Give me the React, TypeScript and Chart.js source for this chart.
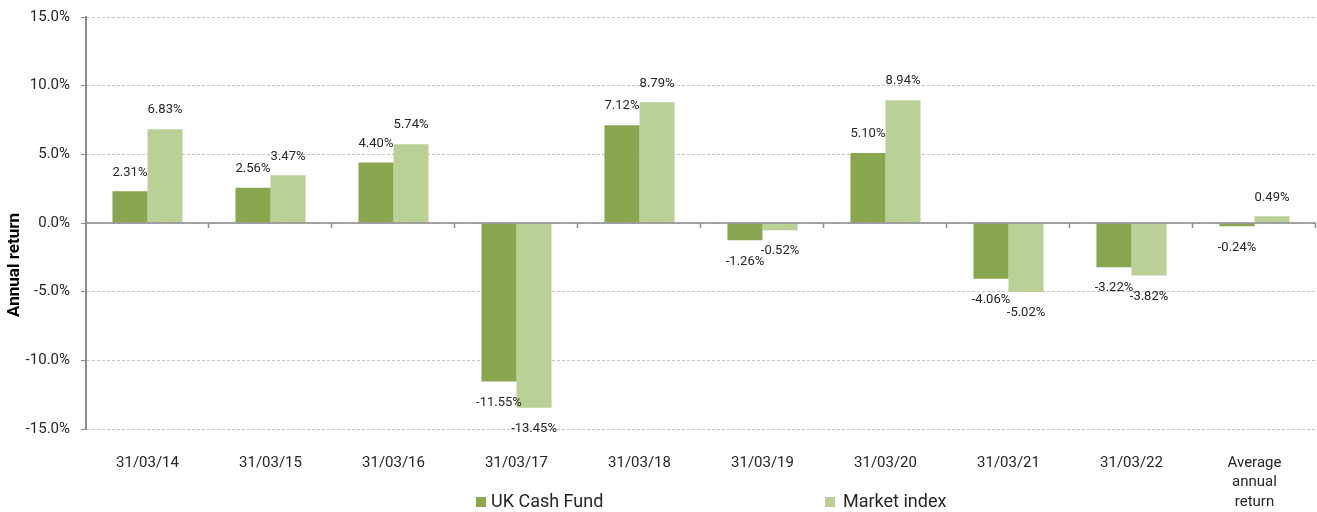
import React, { useEffect, useRef } from "react";
import { Chart, registerables } from "chart.js";

Chart.register(...registerables);

const categories: (string | string[])[] = [
  "31/03/14",
  "31/03/15",
  "31/03/16",
  "31/03/17",
  "31/03/18",
  "31/03/19",
  "31/03/20",
  "31/03/21",
  "31/03/22",
  ["Average", "annual", "return"],
];
const ukCashFund = [2.31, 2.56, 4.4, -11.55, 7.12, -1.26, 5.1, -4.06, -3.22, -0.24];
const marketIndex = [6.83, 3.47, 5.74, -13.45, 8.79, -0.52, 8.94, -5.02, -3.82, 0.49];
const seriesNames = ["UK Cash Fund", "Market index"];
const seriesColors = ["#8aa64e", "#bbd097"];
const yTitle = "Annual return";
const yMin = -15;
const yMax = 15;
const yStep = 5;

const FONT = "Roboto, 'Noto Sans', sans-serif";
const TEXT = "#262626";
const AXIS = "#8c8c8c";

const dataLabelPlugin = {
  id: "dataLabels",
  afterDatasetsDraw(chart: any) {
    const ctx = chart.ctx;
    ctx.save();
    ctx.font = `13px ${FONT}`;
    ctx.fillStyle = TEXT;
    ctx.textAlign = "center";
    ctx.textBaseline = "middle";
    chart.data.datasets.forEach((ds: any, di: number) => {
      const meta = chart.getDatasetMeta(di);
      meta.data.forEach((bar: any, i: number) => {
        const v = ds.data[i];
        const y = v >= 0 ? bar.y - 19 : bar.y + 21;
        ctx.fillText(v.toFixed(2) + "%", bar.x, y);
      });
    });
    ctx.restore();
  },
};

const zeroLinePlugin = {
  id: "zeroLine",
  afterDatasetsDraw(chart: any) {
    const ctx = chart.ctx;
    const { left, right } = chart.chartArea;
    const y0 = chart.scales.y.getPixelForValue(0);
    const n = chart.data.labels.length;
    const w = (right - left) / n;
    ctx.save();
    ctx.strokeStyle = AXIS;
    ctx.lineWidth = 1.5;
    ctx.beginPath();
    ctx.moveTo(left, y0);
    ctx.lineTo(right, y0);
    for (let i = 1; i <= n; i++) {
      const x = Math.round(left + i * w) - 0.5;
      ctx.moveTo(x, y0);
      ctx.lineTo(x, y0 + 5);
    }
    ctx.stroke();
    ctx.restore();
  },
};

const titleAndLegendPlugin = {
  id: "titleAndLegend",
  afterDraw(chart: any) {
    const ctx = chart.ctx;
    ctx.save();
    // y-axis title
    ctx.save();
    ctx.translate(15, 265);
    ctx.rotate(-Math.PI / 2);
    ctx.font = `bold 17px ${FONT}`;
    ctx.fillStyle = "#000";
    ctx.textAlign = "center";
    ctx.textBaseline = "middle";
    ctx.fillText(yTitle, 0, 0);
    ctx.restore();
    // legend
    const xs = [476, 825];
    const gaps = [15, 18];
    const y = 502;
    ctx.font = `18px ${FONT}`;
    ctx.textAlign = "left";
    ctx.textBaseline = "middle";
    chart.data.datasets.forEach((ds: any, i: number) => {
      ctx.fillStyle = ds.backgroundColor;
      ctx.fillRect(xs[i], y - 5, 10, 10);
      ctx.fillStyle = TEXT;
      ctx.fillText(ds.label, xs[i] + gaps[i], y);
    });
    ctx.restore();
  },
};

export default function App() {
  const ref = useRef<HTMLCanvasElement | null>(null);
  useEffect(() => {
    if (!ref.current) return;
    const chart = new Chart(ref.current, {
      type: "bar",
      data: {
        labels: categories,
        datasets: [
          { label: seriesNames[0], data: ukCashFund, backgroundColor: seriesColors[0] },
          { label: seriesNames[1], data: marketIndex, backgroundColor: seriesColors[1] },
        ],
      },
      options: {
        animation: false,
        responsive: true,
        maintainAspectRatio: false,
        datasets: { bar: { barPercentage: 1, categoryPercentage: 0.57 } },
        layout: { padding: { top: 17, right: 1, left: 0, bottom: 0 } },
        plugins: { legend: { display: false }, tooltip: { enabled: false } },
        scales: {
          x: {
            grid: { display: false, drawTicks: false },
            border: { display: false },
            ticks: {
              font: { family: FONT, size: 15, lineHeight: 1.3 },
              color: TEXT,
              padding: 24,
              maxRotation: 0,
              autoSkip: false,
            },
            afterFit(scale: any) {
              scale.height = 83;
              scale.paddingLeft = 0;
              scale.paddingRight = 0;
            },
          },
          y: {
            min: yMin,
            max: yMax,
            ticks: {
              stepSize: yStep,
              font: { family: FONT, size: 15 },
              color: TEXT,
              padding: 11,
              callback: (v: any) => Number(v).toFixed(1) + "%",
            },
            grid: { color: "#c4c4c4", tickColor: AXIS, tickLength: 5, lineWidth: 1 },
            border: { display: true, color: AXIS, width: 2, dash: [3, 2] },
            title: { display: false },
            afterFit(scale: any) {
              scale.width = 86;
              scale.paddingTop = 0;
              scale.paddingBottom = 0;
            },
          },
        },
      },
      plugins: [zeroLinePlugin, dataLabelPlugin, titleAndLegendPlugin],
    } as any);
    return () => chart.destroy();
  }, []);
  return (
    <div style={{ position: "fixed", left: 0, top: 0, width: 1317, height: 512, background: "#fff" }}>
      <canvas ref={ref} />
    </div>
  );
}
